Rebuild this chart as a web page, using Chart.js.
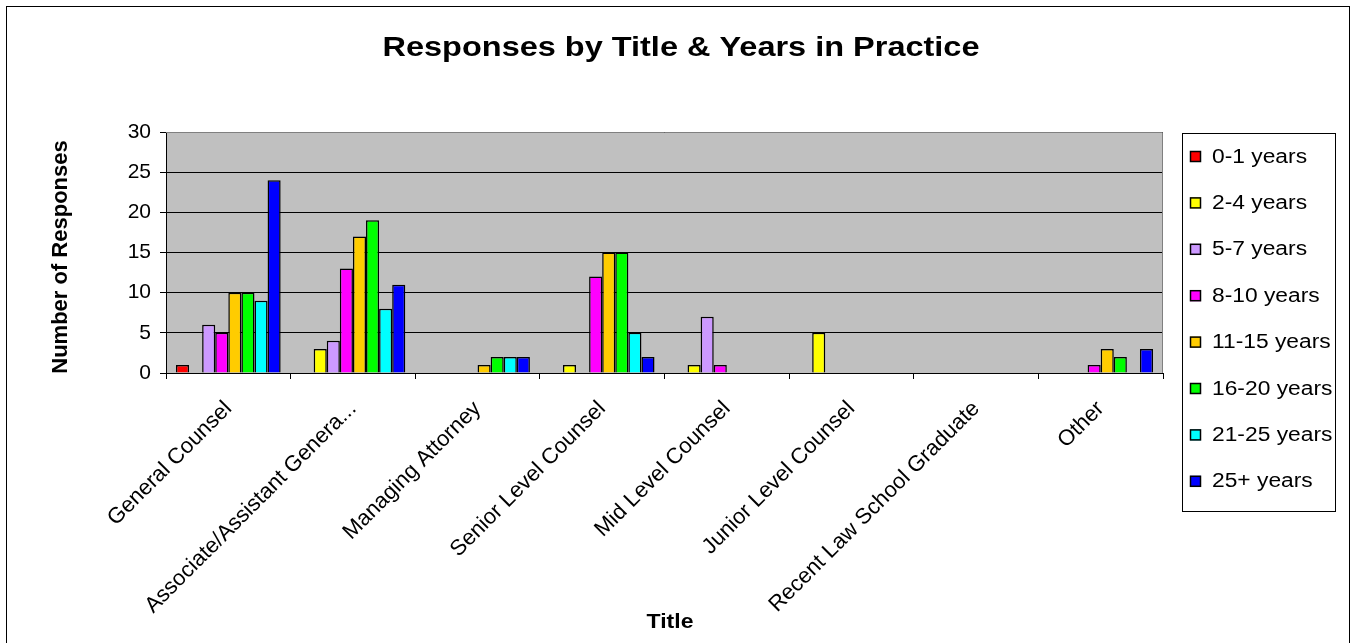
<!DOCTYPE html>
<html>
<head>
<meta charset="utf-8">
<title>Responses by Title & Years in Practice</title>
<script src="https://cdn.jsdelivr.net/npm/chart.js@4/dist/chart.umd.min.js"></script>
<style>
  html, body { margin: 0; padding: 0; background: #fff; overflow: hidden; }
  #titleChart { display: block; }
</style>
</head>
<body>
<canvas id="titleChart" width="1351" height="643"></canvas>
<script>
// Job titles along the x axis
const titles = [
    'General Counsel',
    'Associate/Assistant Genera...',
    'Managing Attorney',
    'Senior Level Counsel',
    'Mid Level Counsel',
    'Junior Level Counsel',
    'Recent Law School Graduate',
    'Other'
];

// Years-in-practice bands and their fills
const bands = ['0-1 years', '2-4 years', '5-7 years', '8-10 years', '11-15 years', '16-20 years', '21-25 years', '25+ years'];
const bandColors = ['#FF0000', '#FFFF00', '#CC99FF', '#FF00FF', '#FFCC00', '#00FF00', '#00FFFF', '#0000FF'];

// Response counts, one array per band (in title order)
const years0to1 = [1, 0, 0, 0, 0, 0, 0, 0];
const years2to4 = [0, 3, 0, 1, 1, 5, 0, 0];
const years5to7 = [6, 4, 0, 0, 7, 0, 0, 0];
const years8to10 = [5, 13, 0, 12, 1, 0, 0, 1];
const years11to15 = [10, 17, 1, 15, 0, 0, 0, 3];
const years16to20 = [10, 19, 2, 15, 0, 0, 0, 2];
const years21to25 = [9, 8, 2, 5, 0, 0, 0, 0];
const years25plus = [24, 11, 2, 2, 0, 0, 0, 3];
const seriesValues = [years0to1, years2to4, years5to7, years8to10, years11to15, years16to20, years21to25, years25plus];

const yTicks = [0, 5, 10, 15, 20, 25, 30];

const FONT = "'Liberation Sans', Arial, sans-serif";

// horizontal text, slightly widened like the old office renderer
function wideText(ctx, text, x, y, stretch) {
    ctx.save();
    ctx.translate(x, y);
    ctx.scale(stretch, 1);
    ctx.fillText(text, 0, 0);
    ctx.restore();
}

// Gray plot background, page frame, titles and the boxed legend
const decorations = {
    id: 'decorations',
    beforeDraw(chart) {
        const { ctx, chartArea: a } = chart;
        ctx.save();
        ctx.fillStyle = '#fff';
        ctx.fillRect(0, 0, chart.width, chart.height);
        ctx.fillStyle = '#C0C0C0';
        ctx.fillRect(a.left, a.top, a.right - a.left, a.bottom - a.top);
        ctx.restore();
    },
    afterDraw(chart) {
        const { ctx, chartArea: a } = chart;
        ctx.save();

        // plot border on top and right
        ctx.strokeStyle = '#808080';
        ctx.lineWidth = 1;
        ctx.beginPath();
        ctx.moveTo(a.left, a.top + 0.5);
        ctx.lineTo(a.right - 0.5, a.top + 0.5);
        ctx.lineTo(a.right - 0.5, a.bottom);
        ctx.stroke();

        // outer frame
        ctx.strokeStyle = '#000';
        ctx.strokeRect(6.5, 6.5, 1343, 700);

        // titles
        ctx.fillStyle = '#000';
        ctx.textAlign = 'center';
        ctx.textBaseline = 'middle';
        ctx.font = 'bold 28px ' + FONT;
        wideText(ctx, 'Responses by Title & Years in Practice', 681, 48, 1.16);
        ctx.font = 'bold 20px ' + FONT;
        wideText(ctx, 'Title', 670, 622, 1.15);
        ctx.save();
        ctx.translate(61, 257);
        ctx.rotate(-Math.PI / 2);
        ctx.font = 'bold 22px ' + FONT;
        ctx.fillText('Number of Responses', 0, 0);
        ctx.restore();

        // legend box
        const lx = 1182, ly = 133, lw = 153, lh = 378;
        ctx.fillStyle = '#fff';
        ctx.fillRect(lx, ly, lw, lh);
        ctx.strokeStyle = '#000';
        ctx.strokeRect(lx + 0.5, ly + 0.5, lw, lh);
        ctx.font = '20px ' + FONT;
        ctx.textAlign = 'left';
        chart.data.datasets.forEach((ds, i) => {
            const cy = ly + 23 + i * 46.4;
            ctx.fillStyle = ds.backgroundColor;
            ctx.fillRect(lx + 8, cy - 5, 11, 11);
            ctx.strokeStyle = '#000';
            ctx.lineWidth = 1.5;
            ctx.strokeRect(lx + 8.5, cy - 4.5, 10, 10);
            ctx.fillStyle = '#000';
            wideText(ctx, ds.label, lx + 30, cy + 1, 1.14);
        });
        ctx.restore();
    }
};

const datasets = bands.map((band, i) => ({
    label: band,
    data: seriesValues[i],
    backgroundColor: bandColors[i],
    borderColor: '#000',
    borderWidth: 1.5,
    borderSkipped: 'bottom',
    categoryPercentage: 0.84,
    barPercentage: 1.0
}));

const ctx = document.getElementById('titleChart').getContext('2d');
const titleChart = new Chart(ctx, {
    type: 'bar',
    data: { labels: titles, datasets: datasets },
    options: {
        responsive: false,
        animation: false,
        devicePixelRatio: 1,
        layout: { padding: { left: 6, top: 132, right: 188, bottom: 0 } },
        plugins: {
            legend: { display: false },
            title: { display: false },
            tooltip: { enabled: false }
        },
        scales: {
            x: {
                afterFit(scale) { scale.height = 270; },
                border: { display: true, color: '#000', width: 1 },
                grid: { offset: true, drawOnChartArea: false, drawTicks: true, tickLength: 6, color: '#000' },
                ticks: {
                    color: '#000',
                    font: { family: FONT, size: 22 },
                    maxRotation: 45,
                    minRotation: 45,
                    autoSkip: false,
                    padding: 17
                }
            },
            y: {
                min: 0,
                max: 30,
                afterFit(scale) { scale.width = 160; },
                afterBuildTicks(scale) { scale.ticks = yTicks.map(v => ({ value: v })); },
                border: { display: true, color: '#000', width: 1 },
                grid: { color: '#000', lineWidth: 1, drawTicks: true, tickLength: 6 },
                ticks: {
                    color: '#000',
                    font: { family: FONT, size: 21 },
                    padding: 9
                }
            }
        }
    },
    plugins: [decorations]
});
</script>
</body>
</html>
